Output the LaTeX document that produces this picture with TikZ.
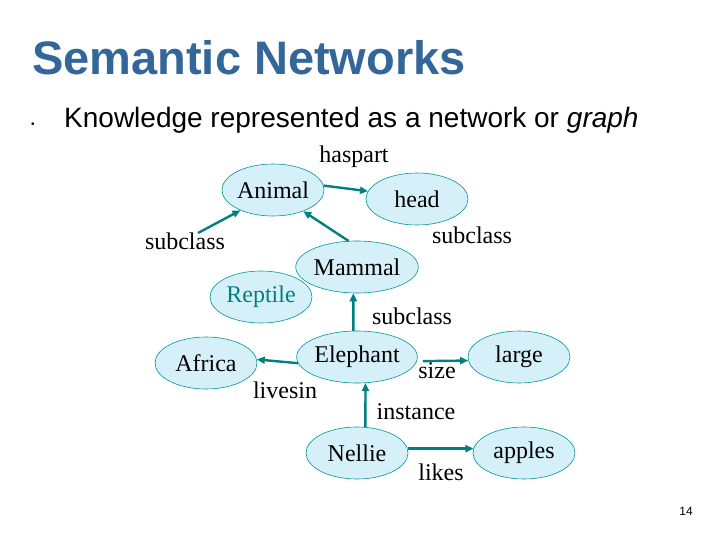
\documentclass[tikz,border=0pt]{standalone}
\usepackage{fontspec}
\setmainfont{Liberation Serif}
\newfontfamily\slidefont{Liberation Sans}
\usetikzlibrary{arrows.meta, positioning, shapes.geometric}
\definecolor{titleblue}{RGB}{51,102,153}
\definecolor{linkteal}{RGB}{0,128,128}
\definecolor{conceptfill}{RGB}{214,240,250}
\definecolor{conceptedge}{RGB}{0,150,150}

\begin{document}
\begin{tikzpicture}[
        x=1pt, y=-1pt,
        on grid,
        node distance=90pt and 150pt,
        every node/.style={font=\fontsize{24}{26}\selectfont},
        concept/.style={ellipse, draw=conceptedge, line width=0.6pt, fill=conceptfill, minimum width=102pt, minimum height=52pt, inner sep=0pt},
        rel/.style={inner sep=0pt},
        arrow/.style={-{Triangle[length=8pt, width=7pt]}, line width=2.4pt, draw=linkteal}
    ]
        \useasboundingbox (0,0) rectangle (720,540);

        % Heading
        \node[anchor=base west, inner sep=0pt, text=titleblue, font=\slidefont\bfseries\fontsize{47}{50}\selectfont] (title) at (32,75) {Semantic Networks};
        \node[inner sep=0pt, font=\slidefont\fontsize{10}{12}\selectfont] (dot) at (33,125) {•};
        \node[anchor=base west, inner sep=0pt, font=\slidefont\fontsize{28}{32}\selectfont] (bullet) at (64,128) {Knowledge represented as a network or \textit{graph}};

        % Nodes
        \node[concept] (elephant) at (357,357) {Elephant};
        \node[concept, above=of elephant] (mammal) {Mammal};
        \node[concept, below=96pt of elephant] (nellie) {Nellie};
        \node[concept, below left=6pt and 151pt of elephant] (africa) {Africa};
        \node[concept, right=162pt of elephant] (large) {large};
        \node[concept, right=167pt of nellie] (apples) {apples};
        \node[concept, above left=77pt and 84pt of mammal] (animal) {Animal};
        \node[concept, above right=68pt and 60pt of mammal] (head) {head};
        \node[concept, below left=30pt and 96pt of mammal, text=linkteal] (reptile) {Reptile};

        % Relation labels
        \node[rel] (haspart) at (354,157) {haspart};
        \node[rel] (subleft) at (185,241) {subclass};
        \node[rel] (subright) at (472,235) {subclass};
        \node[rel] (submid) at (412,316) {subclass};
        \node[rel] (livesin) at (285,390) {livesin};
        \node[rel] (size) at (437,371) {size};
        \node[rel] (instance) at (416,412) {instance};
        \node[rel] (likes) at (441,472) {likes};

        \node[font=\slidefont\fontsize{12}{14}\selectfont] (pagenum) at (686,511) {14};

        % Arrows
        \coordinate (subtail) at (198,233);
        \draw[arrow] (animal.5) -- (head.171);
        \draw[arrow] (subtail) -- (animal.212);
        \draw[arrow] (mammal.108) -- (animal.-35);
        \draw[arrow] (elephant.98) -- (mammal.262);
        \draw[arrow] (elephant.186) -- (africa.4);
        \draw[arrow, shorten <=6pt] (elephant.-4) -- (large.184);
        \draw[arrow] (nellie.72) -- (elephant.288);
        \draw[arrow] (nellie.5) -- (apples.175);

    \end{tikzpicture}
\end{document}
